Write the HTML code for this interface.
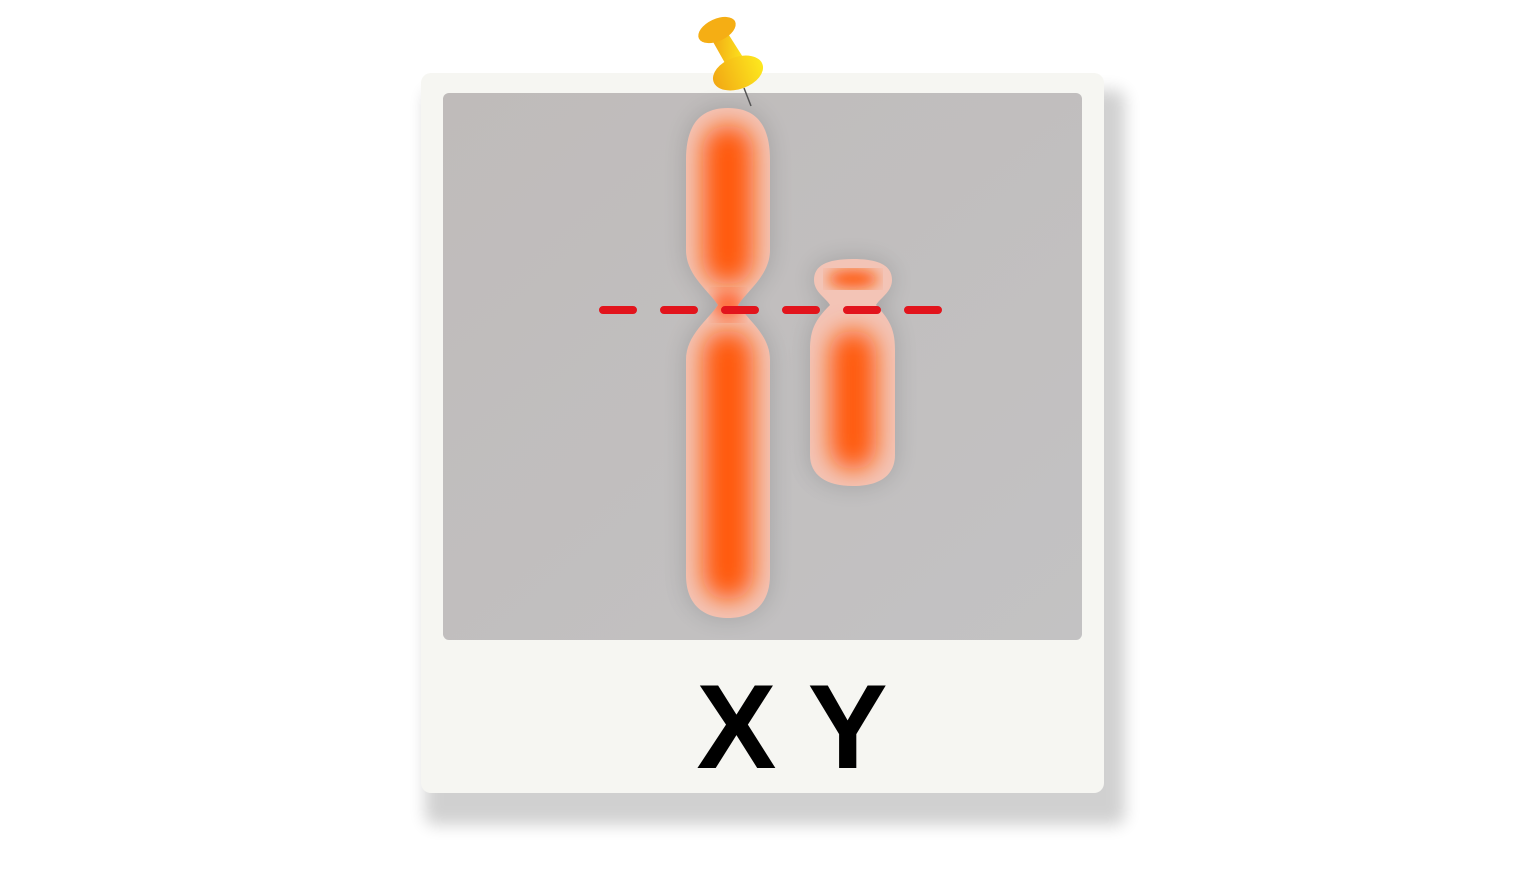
<!DOCTYPE html>
<html><head><meta charset="utf-8"><style>
html,body{margin:0;padding:0;background:#fff;width:1517px;height:889px;overflow:hidden}
</style></head><body>
<svg width="1517" height="889" viewBox="0 0 1517 889" xmlns="http://www.w3.org/2000/svg">
<defs>
  <filter id="sh" x="-10%" y="-10%" width="120%" height="130%"><feGaussianBlur stdDeviation="8"/></filter>
  <filter id="b6"><feGaussianBlur stdDeviation="7"/></filter>
  <filter id="b14" x="-50%" y="-50%" width="200%" height="200%"><feGaussianBlur stdDeviation="12"/></filter>
  <filter id="b3"><feGaussianBlur stdDeviation="2.5"/></filter>
  <linearGradient id="photo" x1="0" y1="0" x2="1" y2="1">
    <stop offset="0" stop-color="#bfbbba"/><stop offset="1" stop-color="#c3c2c3"/>
  </linearGradient>
  <linearGradient id="pin" x1="0" y1="0" x2="1" y2="0">
    <stop offset="0" stop-color="#f2a814"/><stop offset="1" stop-color="#fde81e"/>
  </linearGradient>
  <clipPath id="xc"><path d="M728,108 C760,108 770,130 770,160 L770,250 C770,275 748,290 738,305 C748,320 770,335 770,360 L770,575 C770,605 752,618 728,618 C704,618 686,605 686,575 L686,360 C686,335 708,320 718,305 C708,290 686,275 686,250 L686,160 C686,130 696,108 728,108 Z"/></clipPath>
  <clipPath id="yc"><path d="M853,259 C880,259 892,266 892,280 C892,292 880,298 876,305 C890,320 895,330 895,350 L895,455 C895,475 880,486 853,486 C826,486 810,475 810,455 L810,350 C810,330 815,320 830,305 C826,298 814,292 814,280 C814,266 826,259 853,259 Z"/></clipPath>
</defs>
<rect x="425" y="90" width="700" height="735" rx="10" fill="#000" opacity="0.18" filter="url(#sh)"/>
<rect x="421" y="73" width="683" height="720" rx="10" fill="#f6f6f2"/>
<rect x="443" y="93" width="639" height="547" rx="6" fill="url(#photo)"/>
<g>
  <path d="M728,108 C760,108 770,130 770,160 L770,250 C770,275 748,290 738,305 C748,320 770,335 770,360 L770,575 C770,605 752,618 728,618 C704,618 686,605 686,575 L686,360 C686,335 708,320 718,305 C708,290 686,275 686,250 L686,160 C686,130 696,108 728,108 Z" fill="#000" opacity="0.15" filter="url(#b14)"/>
  <g clip-path="url(#xc)">
    <rect x="680" y="100" width="100" height="530" fill="#f3c4b6"/>
    <rect x="703" y="125" width="50" height="160" rx="25" fill="#ff5a0a" filter="url(#b14)"/>
    <rect x="703" y="330" width="50" height="270" rx="25" fill="#ff5a0a" filter="url(#b14)"/>
    <rect x="712" y="290" width="32" height="30" rx="15" fill="#ff7040" filter="url(#b6)"/>
  </g>
</g>
<g>
  <path d="M853,259 C880,259 892,266 892,280 C892,292 880,298 876,305 C890,320 895,330 895,350 L895,455 C895,475 880,486 853,486 C826,486 810,475 810,455 L810,350 C810,330 815,320 830,305 C826,298 814,292 814,280 C814,266 826,259 853,259 Z" fill="#000" opacity="0.15" filter="url(#b14)"/>
  <g clip-path="url(#yc)">
    <rect x="805" y="250" width="100" height="245" fill="#f3c4b6"/>
    <ellipse cx="853" cy="279" rx="25" ry="9" fill="#ff5a0a" filter="url(#b6)"/>
    <rect x="830" y="330" width="46" height="140" rx="23" fill="#ff5a0a" filter="url(#b14)"/>
  </g>
</g>
<line x1="603" y1="310" x2="944" y2="310" stroke="#e2141c" stroke-width="8" stroke-linecap="round" stroke-dasharray="30 31"/>
<g>
  <line x1="744" y1="88" x2="751" y2="106" stroke="#555" stroke-width="1.5"/>
  <path d="M712,40 L727,32 L746,62 L730,72 Z" fill="url(#pin)"/>
  <ellipse cx="717" cy="30" rx="20" ry="11" transform="rotate(-25 717 30)" fill="#f5ae14"/>
  <ellipse cx="738" cy="73" rx="26" ry="16" transform="rotate(-20 738 73)" fill="url(#pin)"/>
</g>
<text x="792" y="768" text-anchor="middle" font-family="'Liberation Sans', sans-serif" font-weight="bold" font-size="120" fill="#000">X Y</text>
</svg>
</body></html>
